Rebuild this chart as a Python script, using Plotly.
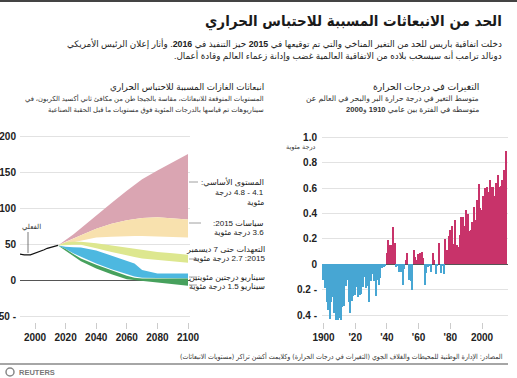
import plotly.graph_objects as go

# ---------------- DATA ----------------
# Left chart: emissions (GtCO2e)
hist_years = [1990, 1993, 1997, 2000, 2003, 2006, 2008, 2010, 2012, 2015]
hist_vals = [37, 36, 36, 38, 40, 43, 45, 46, 48, 49]

band_years = [2015, 2020, 2025, 2030, 2040, 2050, 2060, 2065, 2070, 2080, 2090, 2100]
baseline_hi = [49, 56, 64, 73, 91, 108, 125, 133, 141, 153, 165, 176]
baseline_lo = [49, 54, 59, 63, 72, 79, 84, 86, 87, 88, 87, 85]
policy_hi = [49, 54, 59, 63, 72, 79, 84, 86, 87, 88, 87, 85]
policy_lo = [49, 51, 54, 56, 60, 61, 62, 62, 62, 61, 61, 60]
pledge_hi = [49, 53, 54, 54, 52, 49, 45, 44, 42, 40, 38, 36]
pledge_lo = [49, 50, 50, 50, 45, 40, 35, 33, 31, 28, 27, 25]
two_hi = [49, 47, 46.5, 46, 42, 35, 27, 24, 15, 10, 10, 10]
two_lo = [49, 44, 38, 33, 24, 16, 9, 6, 4, 3, 3, 3]
one5_hi = [49, 44, 37, 31, 22, 14, 7, 4, 3, 3, 3, 3]
one5_lo = [49, 42, 34, 27, 17, 9, 2, 0, -1, -3, -5, -7]

left_xticks = [2000, 2020, 2040, 2060, 2080, 2100]
left_yticks = [-50, 0, 50, 100, 150, 200]
left_yticktext = ["50 -", "0", "50", "100", "150", "200"]

# Right chart: temperature anomaly (deg C)
temp_years = list(range(1900, 2016))
temp_vals = [
    -0.12, -0.19, -0.30, -0.36, -0.43, -0.30, -0.26, -0.38, -0.44, -0.44,
    -0.42, -0.44, -0.34, -0.33, -0.17, -0.12, -0.30, -0.38, -0.29, -0.25,
    -0.24, -0.18, -0.26, -0.24, -0.23, -0.18, -0.10, -0.19, -0.17, -0.30,
    -0.13, -0.08, -0.13, -0.25, -0.12, -0.16, -0.11, -0.03, -0.02, -0.01,
    0.09, 0.19, 0.15, 0.15, 0.29, 0.17, -0.02, -0.01, -0.06, -0.06,
    -0.16, -0.04, 0.03, 0.09, -0.12, -0.13, -0.20, 0.11, 0.06, 0.03,
    0.08, 0.09, 0.10, 0.05, -0.16, -0.07, -0.02, -0.01, -0.06, 0.09,
    0.03, -0.08, -0.01, 0.165, -0.07, -0.01, -0.08,
    0.20, 0.11, 0.22, 0.27, 0.30, 0.16, 0.35, 0.15, 0.14, 0.23,
    0.37, 0.37, 0.30, 0.43, 0.40, 0.26, 0.27, 0.33, 0.45, 0.35,
    0.51, 0.63,
    0.44, 0.43, 0.54, 0.60, 0.61, 0.57, 0.66, 0.61, 0.61, 0.54,
    0.64, 0.70, 0.61, 0.62, 0.66, 0.74, 0.89,
]
right_xticks = [1900, 1920, 1940, 1960, 1980, 2000]
right_xticktext = ["1900", "'20", "'40", "'60", "'80", "2000"]
right_yticks = [-0.4, -0.2, 0, 0.2, 0.4, 0.6, 0.8, 1.0]
right_yticktext = ["0.4 -", "0.2 -", "0", "0.2", "0.4", "0.6", "0.8", "1.0"]

# ---------------- TEXT ----------------
title = "الحد من الانبعاثات المسببة للاحتباس الحراري"
sub1 = "دخلت اتفاقية باريس للحد من التغير المناخي والتي تم توقيعها في <b>2015</b> حيز التنفيذ في <b>2016</b>. وأثار إعلان الرئيس الأمريكي"
sub2 = "دونالد ترامب أنه سيسحب بلاده من الاتفاقية العالمية غضب وإدانة زعماء العالم وقادة أعمال."
left_title = "انبعاثات الغازات المسببة للاحتباس الحراري"
left_sub1 = "المستويات المتوقعة للانبعاثات، مقاسة بالجيجا طن من مكافئ ثاني أكسيد الكربون، في"
left_sub2 = "سيناريوهات تم قياسها بالدرجات المئوية فوق مستويات ما قبل الحقبة الصناعية"
right_title = "التغيرات في درجات الحرارة"
right_sub1 = "متوسط التغير في درجة حرارة البر والبحر في العالم عن"
right_sub2 = "متوسطه في الفترة بين عامي <b>1910</b> و<b>2000</b>"
unit_label = "درجة مئوية"
actual_label = "الفعلي"
source = "المصادر: الإدارة الوطنية للمحيطات والغلاف الجوي (التغيرات في درجات الحرارة) وكلايمت أكشن تراكر (مستويات الانبعاثات)"
lbl_base = ["المستوى الأساسي:", "4.1 - 4.8 درجة", "مئوية"]
lbl_policy = ["سياسات 2015:", "3.6 درجة مئوية"]
lbl_pledge = ["التعهدات حتى 7 ديسمبر", "2015: 2.7 درجة مئوية"]
lbl_scen = ["سيناريو درجتين مئويتين", "سيناريو 1.5 درجة مئوية"]

# ---------------- HELPERS ----------------
W, H = 517, 378
def P(x):
    return x / W
def Q(y):
    return 1 - y / H
def rtl(s):
    return "\u202b" + s + "\u202c"

AR = "Liberation Sans, DejaVu Sans"
ARC = "DejaVu Sans Condensed, Liberation Sans Narrow, DejaVu Sans"
DARK = "#222222"

fig = go.Figure()

def band(lo, hi, color, name):
    xs = band_years + band_years[::-1]
    ys = hi + lo[::-1]
    fig.add_trace(go.Scatter(x=xs, y=ys, fill="toself", fillcolor=color,
                             line=dict(width=0), mode="lines", name=name,
                             hoverinfo="skip", xaxis="x", yaxis="y"))

band(baseline_lo, baseline_hi, "#daa5b2", "baseline")
band(policy_lo, policy_hi, "#f8e1ae", "policy")
band(pledge_lo, pledge_hi, "#dde78f", "pledge")
band(two_lo, two_hi, "#4db8e0", "2C")
band(one5_lo, one5_hi, "#47a15d", "1.5C")

fig.add_trace(go.Scatter(x=hist_years, y=hist_vals, mode="lines",
                         line=dict(color="#111111", width=1.2),
                         xaxis="x", yaxis="y", hoverinfo="skip"))

bar_colors = ["#c8336a" if v >= 0 else "#47a6d3" for v in temp_vals]
fig.add_trace(go.Bar(x=temp_years, y=temp_vals, marker=dict(color=bar_colors, line=dict(width=0)),
                     width=0.82, xaxis="x2", yaxis="y2", hoverinfo="skip"))

tickfont = dict(family="Liberation Sans", size=10, color=DARK, weight="bold")

y_top, y_bot = 130, 322
# left scales: value 0 at 280.7 px, 0.72 px/unit
l0, lk = 280.7, 0.72
# right scales: value 0 at 264.3 px, 127 px/unit
r0, rk = 264.3, 127.0

fig.update_layout(
    template="none",
    width=W, height=H, margin=dict(l=0, r=0, t=0, b=0, autoexpand=False),
    paper_bgcolor="white", plot_bgcolor="white", showlegend=False,
    bargap=0,
    xaxis=dict(domain=[P(20), P(190)], range=[1990.2, 2101.3], tickvals=left_xticks,
               ticks="outside", ticklen=6, tickcolor="#cccccc", showgrid=False,
               showline=False, zeroline=False, tickfont=tickfont, anchor="y",
               automargin=False),
    yaxis=dict(domain=[Q(y_bot), Q(y_top)],
               range=[(l0 - y_bot) / lk, (l0 - y_top) / lk],
               tickvals=left_yticks, ticktext=left_yticktext, showgrid=True,
               gridcolor="#e2e2e2", gridwidth=1, zeroline=True, zerolinecolor="#555555",
               zerolinewidth=1, showline=False, ticks="", tickfont=tickfont,
               anchor="x", ticklabelstandoff=3, automargin=False),
    xaxis2=dict(domain=[P(322), P(508)], range=[1899.05, 2016.4], tickvals=right_xticks,
                ticktext=right_xticktext, ticks="outside", ticklen=6, tickcolor="#cccccc",
                showgrid=False, showline=False, zeroline=False, tickfont=tickfont, anchor="y2",
                automargin=False),
    yaxis2=dict(domain=[Q(y_bot), Q(y_top)],
                range=[(r0 - y_bot) / rk, (r0 - y_top) / rk],
                tickvals=right_yticks, ticktext=right_yticktext, showgrid=True,
                gridcolor="#e2e2e2", gridwidth=1, zeroline=True, zerolinecolor="#555555",
                zerolinewidth=1, showline=False, ticks="", tickfont=tickfont,
                anchor="x2", ticklabelstandoff=4, automargin=False),
)

ann = []
def txt(x, y, s, size, color=DARK, bold=False, anchor="right", family=AR):
    ann.append(dict(x=P(x), y=Q(y), xref="paper", yref="paper", text=rtl(s),
                    showarrow=False, xanchor=anchor, yanchor="middle", align=anchor,
                    font=dict(family=family, size=size, color=color,
                              weight="bold" if bold else "normal")))

txt(504, 21, title, 15, "#1a1a1a", True, family=ARC)
txt(504, 44, sub1, 8.8, "#222222")
txt(504, 56, sub2, 8.8, "#222222")

txt(266, 87, left_title, 8.8)
txt(266, 99, left_sub1, 6.8, "#333333")
txt(266, 110, left_sub2, 6.8, "#333333")

txt(481, 87, right_title, 9.3)
txt(481, 99, right_sub1, 7.6, "#333333")
txt(481, 110, right_sub2, 7.6, "#333333")

txt(318, 147, unit_label, 6.5, "#333333")
txt(31, 227, actual_label, 7, "#333333", anchor="center")

for i, s in enumerate(lbl_base):
    txt(266, 182 + 10 * i, s, 8, "#222222")
for i, s in enumerate(lbl_policy):
    txt(266, 223 + 9 * i, s, 8, "#222222")
for i, s in enumerate(lbl_pledge):
    txt(267, 249 + 9 * i, s, 8, "#222222")
for i, s in enumerate(lbl_scen):
    txt(267, 277 + 9 * i, s, 8, "#222222")

txt(505, 356, source, 7.0, "#333333", family=ARC)

ann.append(dict(x=P(17), y=Q(372), xref="paper", yref="paper", text="REUTERS",
                showarrow=False, xanchor="left", yanchor="middle",
                font=dict(family="Liberation Sans", size=7.5, color="#777777", weight="bold")))

fig.update_layout(annotations=ann)

shapes = []
def hline(x0, x1, y, color="#888888", w=0.8):
    shapes.append(dict(type="line", xref="paper", yref="paper", x0=P(x0), x1=P(x1),
                       y0=Q(y), y1=Q(y), line=dict(color=color, width=w)))

# top rule
shapes.append(dict(type="rect", xref="paper", yref="paper", x0=0, x1=1, y0=Q(2), y1=1,
                   fillcolor="#444444", line=dict(width=0)))
# leaders
hline(189, 198, 182)
hline(189, 201, 223)
hline(189, 199, 259)
hline(189, 197, 277)
hline(189, 197, 285)
shapes.append(dict(type="line", xref="paper", yref="paper", x0=P(28), x1=P(28),
                   y0=Q(232), y1=Q(253), line=dict(color="#555555", width=0.8)))
# footer rule
hline(0, 508, 364, "#888888", 1.5)
# reuters logo
shapes.append(dict(type="circle", xref="paper", yref="paper", x0=P(6), x1=P(14),
                   y0=Q(376), y1=Q(368), line=dict(color="#888888", width=1.5)))
fig.update_layout(shapes=shapes)

fig.write_html("out.html", config={"displayModeBar": False},
               post_script="document.body.style.margin='0px';document.body.style.padding='0px';")
